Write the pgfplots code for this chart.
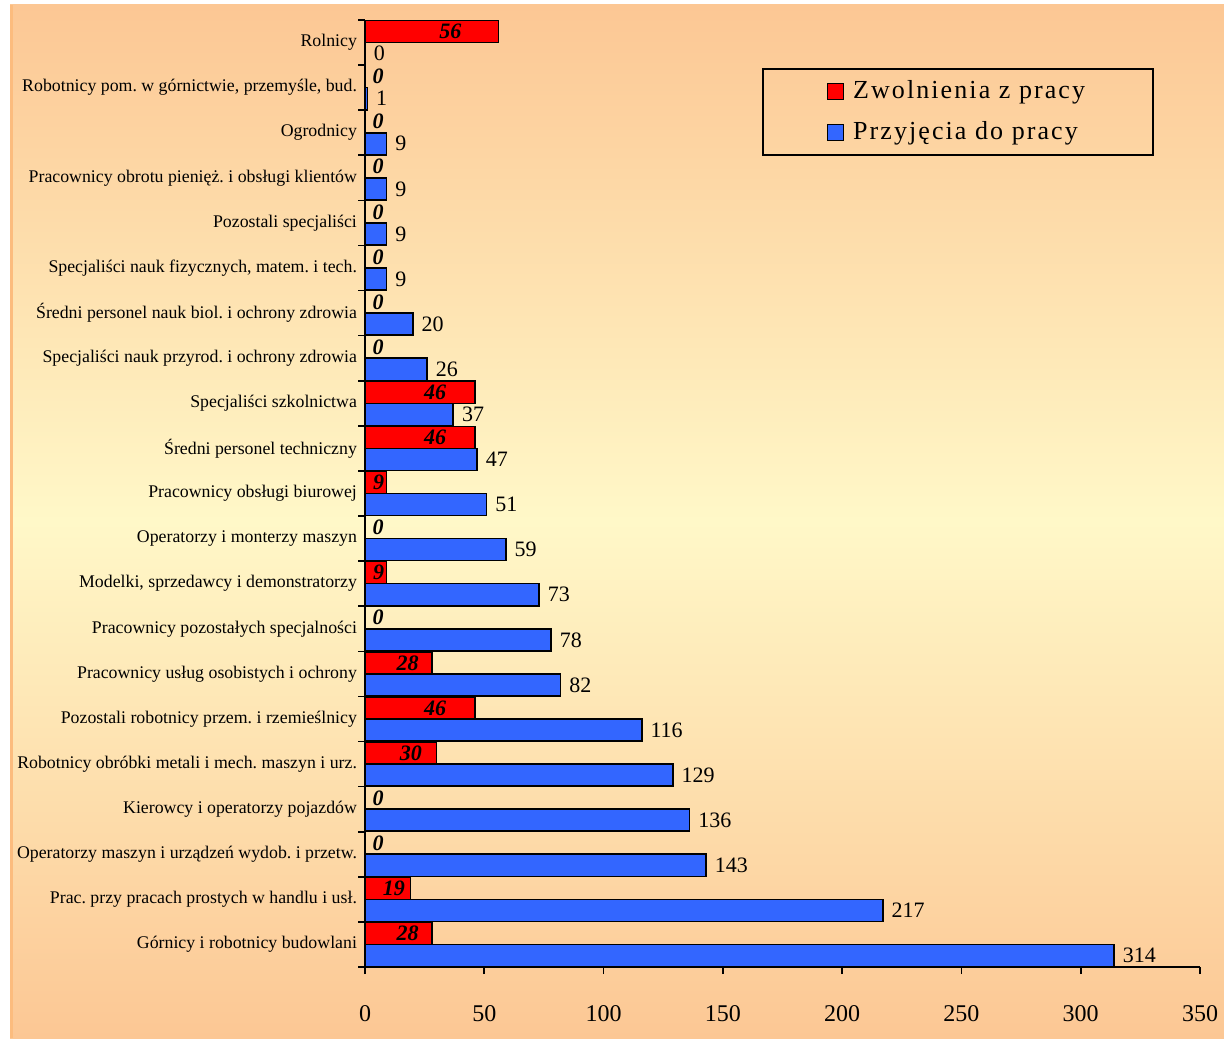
\documentclass[border=0pt]{standalone}
\usepackage{fontspec}
\setmainfont{Liberation Serif}
\newfontfamily\legfont[LetterSpace=8]{Liberation Serif}
\usepackage{pgfplots}
\pgfplotsset{compat=1.18}
\definecolor{redbar}{RGB}{255,0,0}
\definecolor{bluebar}{RGB}{51,102,255}
\definecolor{bgedge}{RGB}{252,199,148}
\definecolor{bgmid}{RGB}{255,248,200}
\begin{document}
\frenchspacing
\begin{tikzpicture}
\useasboundingbox (0,0) rectangle (612pt,519pt);
\fill[white] (0,0) rectangle (612pt,519pt);
\shade[top color=bgedge, bottom color=bgedge, middle color=bgmid] (5pt,0) rectangle (612pt,516.5pt);
\fill[bgedge!85!orange] (5pt,0) rectangle (6.5pt,516.5pt);
\begin{axis}[
  at={(182.5pt,35.5pt)}, anchor=south west,
  width=417.5pt, height=473.5pt, scale only axis,
  xmin=0, xmax=350, ymin=-0.5, ymax=20.5,
  axis x line*=bottom, axis y line*=left,
  axis line style={line width=0.8pt},
  tick align=outside, major tick length=3.5pt,
  tick style={line width=0.8pt, black},
  xtick={0,50,...,350},
  xticklabel style={font=\fontsize{12}{14}\selectfont, yshift=-12pt},
  /pgf/number format/assume math mode=true,
  ytick={-0.5,0.5,...,20.5}, yticklabels={},
  extra y ticks={0,...,20},
  extra y tick labels={
    {Górnicy i robotnicy budowlani},
    {Prac. przy pracach prostych w handlu i usł.},
    {Operatorzy maszyn i urządzeń wydob. i przetw.},
    {Kierowcy i operatorzy pojazdów},
    {Robotnicy obróbki metali i mech. maszyn i urz.},
    {Pozostali robotnicy przem. i rzemieślnicy},
    {Pracownicy usług osobistych i ochrony},
    {Pracownicy pozostałych specjalności},
    {Modelki, sprzedawcy i demonstratorzy},
    {Operatorzy i monterzy maszyn},
    {Pracownicy obsługi biurowej},
    {Średni personel techniczny},
    {Specjaliści szkolnictwa},
    {Specjaliści nauk przyrod. i ochrony zdrowia},
    {Średni personel nauk biol. i ochrony zdrowia},
    {Specjaliści nauk fizycznych, matem. i tech.},
    {Pozostali specjaliści},
    {Pracownicy obrotu pienięż. i obsługi klientów},
    {Ogrodnicy},
    {Robotnicy pom. w górnictwie, przemyśle, bud.},
    {Rolnicy}},
  extra y tick style={tick style={draw=none}},
  yticklabel style={font=\fontsize{8.9}{10}\selectfont, xshift=3pt},
  xbar, bar width=0.49,
  legend image code/.code={\draw[#1, line width=0.7pt] (0pt,-4pt) rectangle (8pt,4pt);},
  legend style={at={(0.4754,0.9493)}, anchor=north west, draw=black, line width=0.8pt,
    fill=none, font=\legfont\fontsize{13}{15}\selectfont, inner xsep=32pt, inner ysep=4pt,
    row sep=6pt, cells={anchor=west},
    /tikz/every odd column/.append style={column sep=2.5pt}},
  clip=false,
]
\addplot[xbar, fill=redbar, draw=black, line width=0.8pt, bar shift=0.245,
  point meta=rawx, nodes near coords,
  visualization depends on={rawx \as \rawx},
  every node near coord/.append style={font=\bfseries\itshape\fontsize{11}{13}\selectfont,
    anchor=center, inner sep=0pt, black,
    xshift={ifthenelse(\rawx==0,6.5,-0.43*\rawx)}}]
  coordinates {(28,0) (19,1) (0,2) (0,3) (30,4) (46,5) (28,6) (0,7) (9,8) (0,9) (9,10)
    (46,11) (46,12) (0,13) (0,14) (0,15) (0,16) (0,17) (0,18) (0,19) (56,20)};
\addlegendentry{Zwolnienia z pracy}
\addplot[xbar, fill=bluebar, draw=black, line width=0.8pt, bar shift=-0.245,
  point meta=rawx, nodes near coords,
  every node near coord/.append style={font=\fontsize{11}{13}\selectfont,
    anchor=west, inner sep=0pt, black, xshift=4pt}]
  coordinates {(314,0) (217,1) (143,2) (136,3) (129,4) (116,5) (82,6) (78,7) (73,8) (59,9)
    (51,10) (47,11) (37,12) (26,13) (20,14) (9,15) (9,16) (9,17) (9,18) (1,19) (0,20)};
\addlegendentry{Przyjęcia do pracy}
\end{axis}
\end{tikzpicture}
\end{document}
